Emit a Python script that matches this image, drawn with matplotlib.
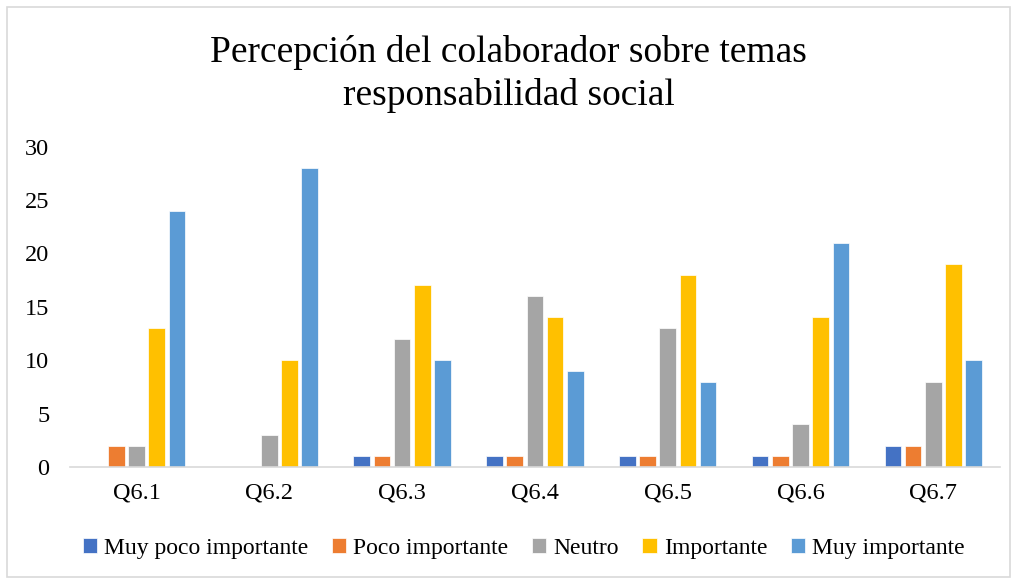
import matplotlib.pyplot as plt
import numpy as np
from matplotlib.patches import Rectangle

plt.rcParams['font.family'] = ['Liberation Serif', 'DejaVu Serif']

questions = ["Q6.1", "Q6.2", "Q6.3", "Q6.4", "Q6.5", "Q6.6", "Q6.7"]
muy_poco = [0, 0, 1, 1, 1, 1, 2]
poco = [2, 0, 1, 1, 1, 1, 2]
neutro = [2, 3, 12, 16, 13, 4, 8]
importante = [13, 10, 17, 14, 18, 14, 19]
muy_importante = [24, 28, 10, 9, 8, 21, 10]

series = [muy_poco, poco, neutro, importante, muy_importante]
names = ["Muy poco importante", "Poco importante", "Neutro", "Importante", "Muy importante"]
colors = ["#4472C4", "#ED7D31", "#A5A5A5", "#FFC000", "#5B9BD5"]

fig = plt.figure(figsize=(10.17, 5.80), dpi=100)
ax = fig.add_axes([0.069, 0.195, 0.914, 0.552])

x = np.arange(len(questions))
pitch = 0.152
width = 0.125
for i, (vals, name, c) in enumerate(zip(series, names, colors)):
    ax.bar(x + (i - 2) * pitch, vals, width, color=c, label=name, edgecolor="white", linewidth=0.5)

ax.set_xlim(-0.5, len(questions) - 0.5)
ax.set_ylim(0, 30)
ax.set_yticks(range(0, 31, 5))
ax.set_xticks(x)
ax.set_xticklabels(questions)
ax.tick_params(axis="both", length=0, labelsize=17.5)
ax.tick_params(axis="x", pad=11)
ax.tick_params(axis="y", pad=15)
for s in ["top", "right", "left"]:
    ax.spines[s].set_visible(False)
ax.spines["bottom"].set_color("#D9D9D9")
ax.spines["bottom"].set_linewidth(1.2)

fig.suptitle("Percepción del colaborador sobre temas\nresponsabilidad social", fontsize=27, y=0.94, linespacing=1.3)

fig.legend(loc="center", bbox_to_anchor=(0.515, 0.055), ncol=5, frameon=False, fontsize=17,
           handlelength=0.6, handleheight=0.6, handletextpad=0.3, columnspacing=1.0)

fig.patches.append(Rectangle((0.007, 0.005), 0.986, 0.983, transform=fig.transFigure,
                             fill=False, edgecolor="#D9D9D9", linewidth=1.2))

fig.savefig("out.png", dpi=100)
